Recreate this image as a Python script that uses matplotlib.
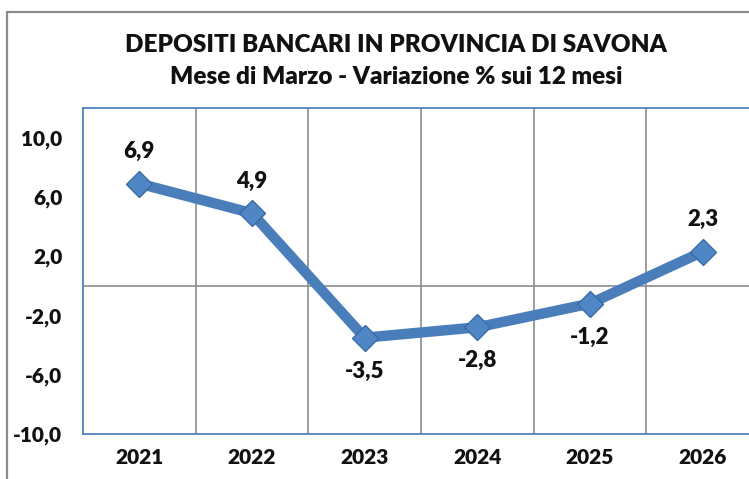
import matplotlib
matplotlib.use("Agg")
import matplotlib.pyplot as plt
from matplotlib.patches import Rectangle

plt.rcParams['font.family'] = ['Lato', 'DejaVu Sans']

years = ["2021", "2022", "2023", "2024", "2025", "2026"]
values = [6.9, 4.9, -3.5, -2.8, -1.2, 2.3]
value_labels = ["6,9", "4,9", "-3,5", "-2,8", "-1,2", "2,3"]
y_ticks = [-10, -6, -2, 2, 6, 10]
y_tick_labels = ["-10,0", "-6,0", "-2,0", "2,0", "6,0", "10,0"]
title_lines = ["DEPOSITI BANCARI IN PROVINCIA DI SAVONA",
               "Mese di Marzo - Variazione % sui 12 mesi"]

W, H = 749, 479
fig = plt.figure(figsize=(W / 100, H / 100), dpi=100)

# outer chart frame (extends past the right and bottom edges)
fig.patches.append(Rectangle((7 / W, -0.2), 1.2, 1.2 - 12 / H,
                             transform=fig.transFigure, fill=False,
                             edgecolor="#8c8c8c", linewidth=1.6, zorder=0))

ax = fig.add_axes([83 / W, (H - 434) / H, 676 / W, (434 - 108) / H])
x = list(range(len(years)))

ax.set_xlim(-0.5, len(years) - 0.5)
ax.set_ylim(-10, 12)

# category separators and zero line
for b in [i + 0.5 for i in range(len(years) - 1)]:
    ax.axvline(b, color="#8c8c8c", linewidth=1.2, zorder=1)
ax.axhline(0, color="#8c8c8c", linewidth=1.2, zorder=1)

for side in ["top", "left", "bottom", "right"]:
    ax.spines[side].set_color("#4F81BD")
    ax.spines[side].set_linewidth(1.3)

ax.plot(x, values, color="#4A7EBB", linewidth=7.5, solid_capstyle="butt",
        zorder=3)
ax.plot(x, values, linestyle="none", marker="D", markersize=13.5,
        markerfacecolor="#4F86C6", markeredgecolor="#3B6BA5",
        markeredgewidth=1.0, zorder=4)

for xi, v, lab in zip(x, values, value_labels):
    above = v > 0
    ax.annotate(lab, (xi, v), xytext=(0, 23 if above else -24),
                textcoords="offset points", ha="center", va="center",
                fontsize=16, fontweight="heavy", color="#111111", zorder=5)

ax.set_yticks(y_ticks)
ax.set_yticklabels(y_tick_labels)
ax.set_xticks(x)
ax.set_xticklabels(years)
ax.tick_params(axis="both", length=0, labelsize=15, colors="#111111")
ax.tick_params(axis="y", pad=15)
ax.tick_params(axis="x", pad=10)
for t in ax.get_xticklabels() + ax.get_yticklabels():
    t.set_fontweight("heavy")

fig.text(396 / W, 1 - 45 / H, title_lines[0], ha="center", va="center",
         fontsize=17.5, fontweight="heavy", color="#111111")
fig.text(396 / W, 1 - 77 / H, title_lines[1], ha="center", va="center",
         fontsize=17.5, fontweight="heavy", color="#111111")

fig.savefig("out.png", dpi=100)
